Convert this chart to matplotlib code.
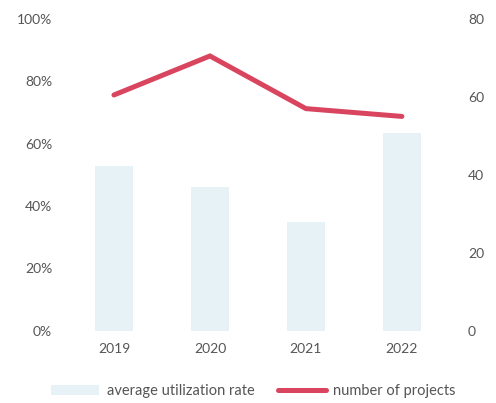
import numpy as np
import matplotlib.pyplot as plt

plt.rcParams['font.family'] = ['Lato', 'DejaVu Sans']

years = ['2019', '2020', '2021', '2022']
utilization = [53, 46, 35, 63.5]      # %
projects = [60.5, 70.5, 57, 55]

barColor = '#e6f2f6'
lineColor = '#d9455f'
textColor = '#555555'

fig = plt.figure(figsize=(4.96, 4.03), dpi=100)
ax = fig.add_axes([0.133, 0.179, 0.774, 0.774])

x = np.arange(len(years))
ax.bar(x, utilization, width=0.39, color=barColor, label='average utilization rate', zorder=1)
ax.set_ylim(0, 100)
ax.set_xlim(-0.5, len(years) - 0.5)
ax.set_yticks([0, 20, 40, 60, 80, 100])
ax.set_yticklabels([f'{v}%' for v in [0, 20, 40, 60, 80, 100]])
ax.set_xticks(x)
ax.set_xticklabels(years)

ax2 = ax.twinx()
ax2.plot(x, projects, color=lineColor, lw=3.6, solid_capstyle='round', solid_joinstyle='miter',
         label='number of projects')
ax2.set_ylim(0, 80)
ax2.set_yticks([0, 20, 40, 60, 80])

for a in (ax, ax2):
    for s in a.spines.values():
        s.set_visible(False)
    a.tick_params(length=0, labelsize=10, colors=textColor)
ax.tick_params(axis='y', pad=10)
ax.tick_params(axis='x', pad=9)
ax2.tick_params(axis='y', pad=13)

h1, l1 = ax.get_legend_handles_labels()
h2, l2 = ax2.get_legend_handles_labels()
fig.legend(h1 + h2, l1 + l2, loc='lower center', bbox_to_anchor=(0.511, -0.02), ncol=2,
           frameon=False, fontsize=10.5, labelcolor=textColor, handlelength=3.3,
           columnspacing=1.6, handletextpad=0.5)

fig.savefig('out.png', dpi=100)
